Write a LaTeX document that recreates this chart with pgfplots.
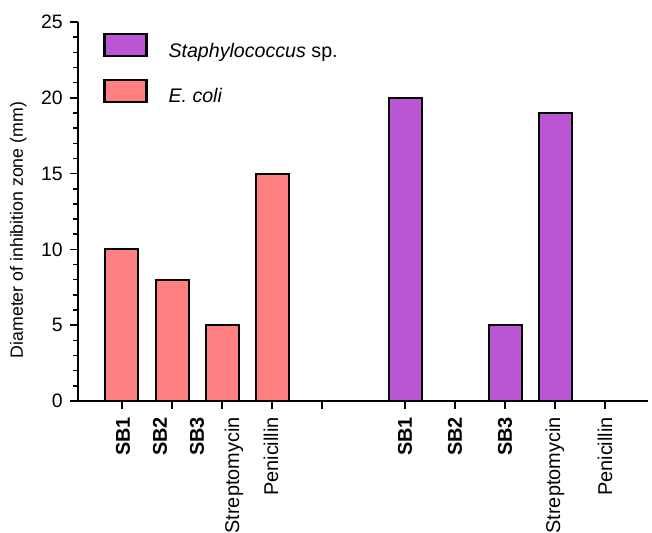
\documentclass[border=0pt]{standalone}
\usepackage{fontspec}
\setmainfont{Liberation Sans}
\usepackage{pgfplots}
\pgfplotsset{compat=1.18}
\definecolor{staph}{RGB}{186,85,211}
\definecolor{ecoli}{RGB}{255,128,128}
\begin{document}
\begin{tikzpicture}
\begin{axis}[
  at={(0,0)}, anchor=south west,
  scale only axis, width=570bp, height=379bp,
  xmin=-0.88, xmax=10.52, ymin=0, ymax=25,
  axis x line=bottom, axis y line=left,
  axis line style={-, line width=1.5bp, black},
  tick align=outside,
  tick style={black, line width=1.5bp},
  major tick length=8bp, minor tick length=4.5bp,
  ytick={0,5,10,15,20,25}, minor y tick num=4,
  /pgf/number format/assume math mode=true,
  yticklabel style={font=\fontsize{19.5}{22}\selectfont, inner sep=0pt, anchor=east, xshift=-7bp},
  xtick={0,1,2,3,4,5.66,6.66,7.66,8.66,9.66},
  xticklabels={},
  extra x ticks={0.02,0.76,1.50,2.24,2.98,5.66,6.66,7.66,8.66,9.66},
  extra x tick labels={\textbf{SB1},\textbf{SB2},\textbf{SB3},Streptomycin,Penicillin,\textbf{SB1},\textbf{SB2},\textbf{SB3},Streptomycin,Penicillin},
  extra x tick style={major tick length=0pt,
    xticklabel style={font=\fontsize{20}{23}\selectfont, inner sep=0pt, yshift=-16bp, rotate=90, anchor=east}},
  every axis y label/.style={at={(axis description cs:0,0.451)}, xshift=-55bp, rotate=90, anchor=base, font=\fontsize{17.8}{21}\selectfont},
  ylabel={Diameter of inhibition zone (mm)},
  legend style={at={(0.0439,0.971)}, anchor=north west, draw=none, fill=none,
    inner sep=0pt, outer sep=0pt, row sep=20bp, column sep=21bp,
    font=\fontsize{19.7}{22}\selectfont, nodes={inner sep=0pt}},
  legend cell align=left,
]
\addplot[ybar, bar shift=0pt, bar width=33bp, fill=staph, draw=black, line width=2bp,
  legend image code/.code={\draw[fill=staph, draw=black, line width=2.5bp] (0bp,-5.5bp) rectangle (42bp,16.5bp);}]
  coordinates {(5.66,20) (6.66,0) (7.66,5) (8.66,19) (9.66,0)};
\addlegendentry{\textit{Staphylococcus} sp.}
\addplot[ybar, bar shift=0pt, bar width=33bp, fill=ecoli, draw=black, line width=2bp,
  legend image code/.code={\draw[fill=ecoli, draw=black, line width=2.5bp] (0bp,-5.5bp) rectangle (42bp,16.5bp);}]
  coordinates {(0,10) (1,8) (2,5) (3,15)};
\addlegendentry{\textit{E. coli}}
\end{axis}
\pgfresetboundingbox
\useasboundingbox (-78bp,-132bp) rectangle (574bp,401bp);
\end{tikzpicture}
\end{document}
